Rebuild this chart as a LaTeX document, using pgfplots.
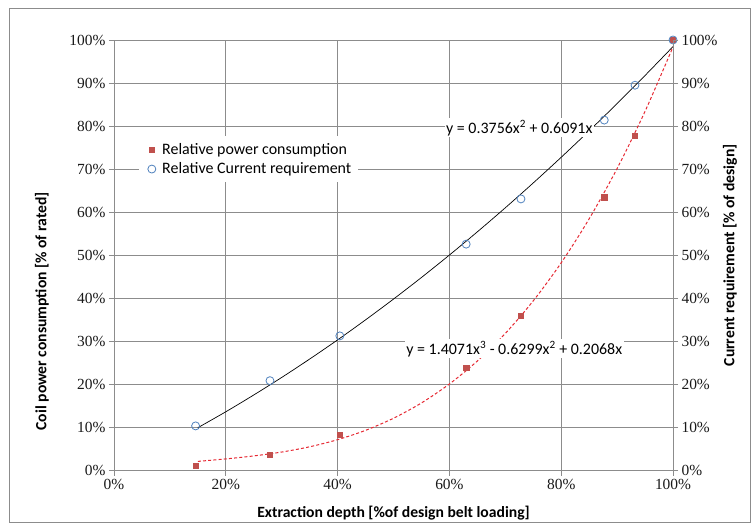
\documentclass[border=0pt]{standalone}
\usepackage{pgfplots}
\pgfplotsset{compat=1.18}
\usepackage{fontspec}
\setmainfont{Carlito}
\newfontfamily\tickfont{Liberation Serif}
\definecolor{gridgray}{RGB}{140,140,140}
\definecolor{sqred}{RGB}{192,80,77}
\definecolor{cirblue}{RGB}{79,129,189}
\definecolor{trendred}{RGB}{230,40,50}
\begin{document}
\begin{tikzpicture}[x=1bp,y=1bp]
\useasboundingbox (-114,-55.3) rectangle (638,470.7);
\draw[gridgray,line width=0.8bp] (-105,-51.3) rectangle (636,462.7);
\begin{axis}[
  at={(0,0)}, anchor=south west,
  scale only axis, width=559bp, height=430.7bp,
  xmin=0, xmax=100, ymin=0, ymax=100,
  xtick={0,20,...,100}, ytick={0,10,...,100},
  /pgf/number format/assume math mode=true,
  xticklabel={\pgfmathprintnumber{\tick}\%},
  yticklabel={\pgfmathprintnumber{\tick}\%},
  tick label style={font=\tickfont\fontsize{15.5}{15.5}\selectfont, text=black!90},
  tick align=outside, major tick length=5bp,
  tick style={gridgray, line width=0.8bp},
  axis line style={gridgray, line width=0.8bp},
  grid=major, grid style={gridgray, line width=0.8bp},
  axis x line*=bottom, axis y line*=left,
  xlabel={\bfseries Extraction depth [\%of design belt loading]},
  ylabel={\bfseries Coil power consumption [\% of rated]},
  label style={font=\fontsize{15.7}{16}\selectfont},
  xlabel style={at={(axis description cs:0.5,-0.0982)}, anchor=center},
  ylabel style={at={(axis description cs:-0.1288,0.37)}, anchor=center},
  legend style={at={(axis description cs:0.045,0.777)}, anchor=north west, draw=none, fill=white,
    font=\fontsize{16}{19}\selectfont, inner xsep=5bp, inner ysep=5bp, row sep=3bp,
    legend cell align=left},
  legend image code/.code={\draw[#1] plot coordinates {(0.25cm,0cm)}; \path (0,0) (0.25cm,0) ++(8bp,0);},
]
\addplot[black, line width=0.7bp, smooth, forget plot] coordinates {
(15,9.98) (20,13.68) (25,17.58) (30,21.65) (35,25.92) (40,30.37) (45,35.02) (50,39.85)
(55,44.86) (60,50.07) (65,55.46) (70,61.04) (75,66.81) (80,72.77) (85,78.91) (90,85.24) (95,91.76) (100,98.47)};
\addplot[trendred, line width=1bp, dash pattern=on 3bp off 2.2bp, smooth, forget plot] coordinates {
(15,2.16) (20,2.74) (25,3.43) (30,4.33) (35,5.55) (40,7.20) (45,9.37) (50,12.18) (55,15.73)
(60,20.13) (65,25.47) (70,31.87) (75,39.44) (80,48.27) (85,58.48) (90,70.17) (95,83.44) (100,98.40)};
\addplot[only marks, mark=square*, mark size=2.6bp, color=sqred, mark options={draw=sqred, fill=sqred}] coordinates {
(14.6,1.1) (27.9,3.7) (40.4,8.3) (63.0,24.0) (72.8,36.0) (87.7,63.5) (93.2,77.8) (100,100)};
\addlegendentry{Relative power consumption}
\addplot[only marks, mark=o, mark size=4bp, color=cirblue, line width=0.8bp] coordinates {
(14.6,10.4) (27.9,20.9) (40.4,31.3) (63.0,52.6) (72.8,63.1) (87.7,81.4) (93.2,89.5) (100,100)};
\addlegendentry{Relative Current requirement}
\node[fill=white, inner sep=1.5bp, font=\fontsize{16}{16}\selectfont] at (axis cs:72.5,79.6) {y = 0.3756x\textsuperscript{2} + 0.6091x};
\node[fill=white, inner sep=1.5bp, font=\fontsize{16}{16}\selectfont] at (axis cs:71.6,28.3) {y = 1.4071x\textsuperscript{3} - 0.6299x\textsuperscript{2} + 0.2068x};
\end{axis}
\begin{axis}[
  at={(0,0)}, anchor=south west,
  scale only axis, width=559bp, height=430.7bp,
  xmin=0, xmax=100, ymin=0, ymax=100,
  ytick={0,10,...,100},
  /pgf/number format/assume math mode=true,
  yticklabel={\pgfmathprintnumber{\tick}\%},
  tick label style={font=\tickfont\fontsize{15.5}{15.5}\selectfont, text=black!90},
  tick align=outside, major tick length=5bp,
  tick style={gridgray, line width=0.8bp},
  axis line style={gridgray, line width=0.8bp},
  axis x line=none, axis y line*=right,
  ylabel={\bfseries Current requirement [\% of design]},
  label style={font=\fontsize{15.7}{16}\selectfont},
  ylabel style={at={(axis description cs:1.102,0.5)}, anchor=center, rotate=0},
]
\addplot[draw=none, forget plot] coordinates {(0,0) (100,100)};
\end{axis}
\end{tikzpicture}
\end{document}
